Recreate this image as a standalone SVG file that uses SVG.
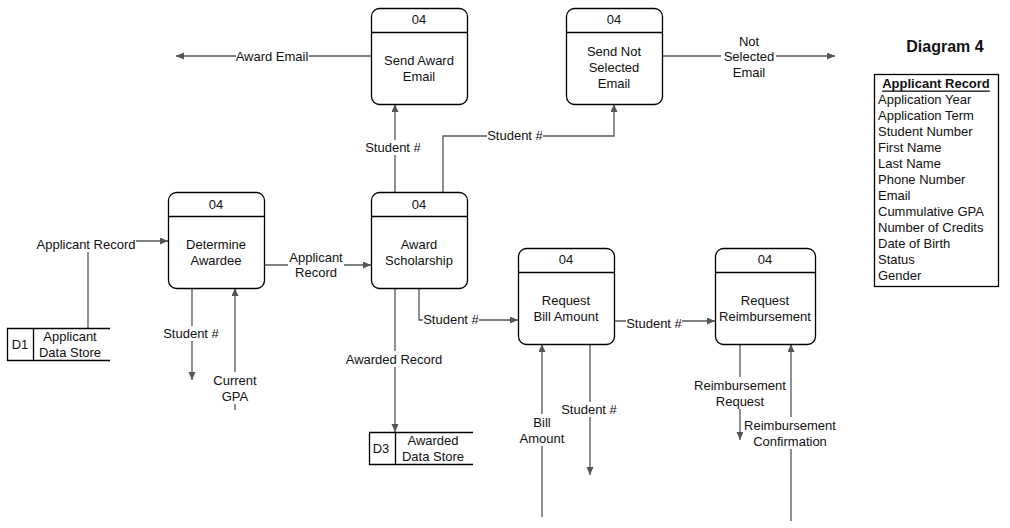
<svg xmlns="http://www.w3.org/2000/svg" width="1010" height="528" viewBox="0 0 1010 528">
<defs>
<marker id="arr" markerWidth="9" markerHeight="8" refX="8" refY="3.5" orient="auto" markerUnits="userSpaceOnUse">
<path d="M0,0 L8,3.5 L0,7 z" fill="#555"/>
</marker>
<style>
text{font-family:"Liberation Sans",Arial,sans-serif;font-size:13px;fill:#111;text-anchor:middle;dominant-baseline:central}
.box{fill:#fff;stroke:#000;stroke-width:1.3}
.hl{stroke:#000;stroke-width:1.3}
.st{fill:none;stroke:#000;stroke-width:1.3}
.c{fill:none;stroke:#555;stroke-width:1.3}
.a{marker-end:url(#arr)}
.bg{fill:#fff}
.title{font-size:16px;font-weight:bold}
.lst{text-anchor:start}
.hd{font-weight:bold;text-decoration:underline}
</style>
</defs>
<rect width="1010" height="528" fill="#fff"/>

<g id="connectors">
<path class="c a" d="M371,56 L176,56"/>
<path class="c a" d="M663,56 L835,56"/>
<path class="c a" d="M395,192 L395,104"/>
<path class="c a" d="M443,192 L443,136 L614,136 L614,104"/>
<path class="c a" d="M88,328 L88,241 L168,241"/>
<path class="c a" d="M265,265 L371,265"/>
<path class="c a" d="M192,288 L192,380"/>
<path class="c a" d="M235,410 L235,288"/>
<path class="c a" d="M395,288 L395,432"/>
<path class="c a" d="M419,288 L419,320 L518,320"/>
<path class="c a" d="M615,321 L715,321"/>
<path class="c a" d="M542,517 L542,344"/>
<path class="c a" d="M590,344 L590,475"/>
<path class="c a" d="M740,344 L740,440"/>
<path class="c a" d="M791,521 L791,344"/>

<rect class="bg" x="236" y="49" width="73" height="15"/>
<text x="272" y="56">Award Email</text>
<rect class="bg" x="721" y="33" width="55" height="47"/>
<text x="749" y="41">Not</text>
<text x="749" y="56">Selected</text>
<text x="749" y="72">Email</text>
<rect class="bg" x="365" y="140" width="56" height="15"/>
<text x="393" y="147">Student #</text>
<rect class="bg" x="487" y="128" width="56" height="15"/>
<text x="515" y="135">Student #</text>
<rect class="bg" x="37" y="236" width="99" height="16"/>
<text x="86" y="244">Applicant Record</text>
<rect class="bg" x="288" y="249" width="56" height="31"/>
<text x="316" y="257">Applicant</text>
<text x="316" y="272">Record</text>
<rect class="bg" x="163" y="326" width="56" height="15"/>
<text x="191" y="333">Student #</text>
<rect class="bg" x="210" y="372" width="50" height="32"/>
<text x="235" y="380">Current</text>
<text x="235" y="396">GPA</text>
<rect class="bg" x="346" y="351" width="96" height="16"/>
<text x="394" y="359">Awarded Record</text>
<rect class="bg" x="423" y="312" width="56" height="15"/>
<text x="451" y="319">Student #</text>
<rect class="bg" x="626" y="316" width="56" height="15"/>
<text x="654" y="323">Student #</text>
<rect class="bg" x="518" y="414" width="48" height="32"/>
<text x="542" y="422">Bill</text>
<text x="542" y="438">Amount</text>
<rect class="bg" x="561" y="402" width="56" height="15"/>
<text x="589" y="409">Student #</text>
<rect class="bg" x="693" y="377" width="94" height="32"/>
<text x="740" y="385">Reimbursement</text>
<text x="740" y="401">Request</text>
<rect class="bg" x="743" y="417" width="95" height="32"/>
<text x="790" y="425">Reimbursement</text>
<text x="790" y="441">Confirmation</text>
</g>

<g id="determine-awardee">
<rect class="box" x="168.5" y="192.5" width="96" height="96" rx="8"/>
<line class="hl" x1="168.5" y1="216.5" x2="264.5" y2="216.5"/>
<text x="216" y="204">04</text>
<text x="216" y="244">Determine</text>
<text x="216" y="260">Awardee</text>
</g>

<g id="award-scholarship">
<rect class="box" x="371.5" y="192.5" width="96" height="96" rx="8"/>
<line class="hl" x1="371.5" y1="216.5" x2="467.5" y2="216.5"/>
<text x="419" y="204">04</text>
<text x="419" y="244">Award</text>
<text x="419" y="260">Scholarship</text>
</g>

<g id="send-award-email">
<rect class="box" x="371.5" y="8.5" width="96" height="96" rx="8"/>
<line class="hl" x1="371.5" y1="32.5" x2="467.5" y2="32.5"/>
<text x="419" y="19">04</text>
<text x="419" y="60">Send Award</text>
<text x="419" y="76">Email</text>
</g>

<g id="send-not-selected-email">
<rect class="box" x="566.5" y="8.5" width="96" height="96" rx="8"/>
<line class="hl" x1="566.5" y1="32.5" x2="662.5" y2="32.5"/>
<text x="614" y="19">04</text>
<text x="614" y="51">Send Not</text>
<text x="614" y="67">Selected</text>
<text x="614" y="83">Email</text>
</g>

<g id="request-bill-amount">
<rect class="box" x="518.5" y="248.5" width="96" height="96" rx="8"/>
<line class="hl" x1="518.5" y1="272.5" x2="614.5" y2="272.5"/>
<text x="566" y="259">04</text>
<text x="566" y="300">Request</text>
<text x="566" y="316">Bill Amount</text>
</g>

<g id="request-reimbursement">
<rect class="box" x="715.5" y="248.5" width="100" height="96" rx="8"/>
<line class="hl" x1="715.5" y1="272.5" x2="815.5" y2="272.5"/>
<text x="765" y="259">04</text>
<text x="765" y="300">Request</text>
<text x="765" y="316">Reimbursement</text>
</g>

<g id="d1-applicant-data-store">
<path class="st" d="M110,328.5 H7.5 V360.5 H110 M33.5,328.5 V360.5"/>
<text x="20" y="344">D1</text>
<text x="70" y="336">Applicant</text>
<text x="70" y="352">Data Store</text>
</g>

<g id="d3-awarded-data-store">
<path class="st" d="M473,432.5 H369.5 V464.5 H473 M395.5,432.5 V464.5"/>
<text x="381" y="448">D3</text>
<text x="433" y="440">Awarded</text>
<text x="433" y="456">Data Store</text>
</g>

<g id="title">
<text class="title" x="945" y="46">Diagram 4</text>
</g>

<g id="applicant-record-legend">
<rect x="874.5" y="74.5" width="124" height="212" fill="#fff" stroke="#000" stroke-width="1.3"/>
<text class="hd" x="936" y="83">Applicant Record</text>
<text class="lst" x="878" y="99">Application Year</text>
<text class="lst" x="878" y="115">Application Term</text>
<text class="lst" x="878" y="131">Student Number</text>
<text class="lst" x="878" y="147">First Name</text>
<text class="lst" x="878" y="163">Last Name</text>
<text class="lst" x="878" y="179">Phone Number</text>
<text class="lst" x="878" y="195">Email</text>
<text class="lst" x="878" y="211">Cummulative GPA</text>
<text class="lst" x="878" y="227">Number of Credits</text>
<text class="lst" x="878" y="243">Date of Birth</text>
<text class="lst" x="878" y="259">Status</text>
<text class="lst" x="878" y="275">Gender</text>
</g>
</svg>
